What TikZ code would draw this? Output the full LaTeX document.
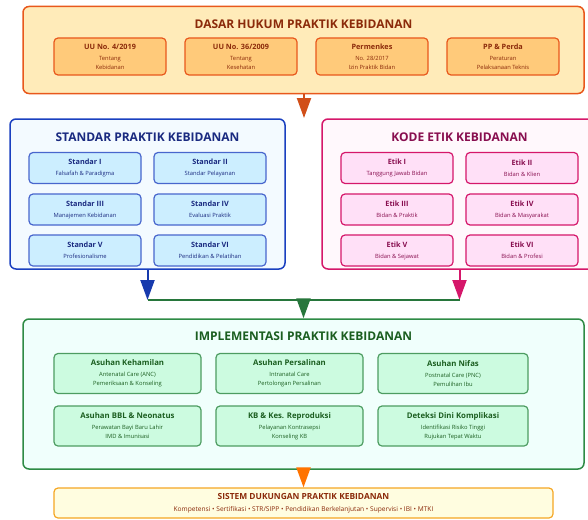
\documentclass[tikz,border=0pt]{standalone}
\usepackage{fontspec}
\setmainfont{Open Sans}
\usetikzlibrary{arrows.meta}

\definecolor{jinggaT}{HTML}{E8581C}
\definecolor{jinggaF}{HTML}{FFEBB9}
\definecolor{jinggaK}{HTML}{FFCA7A}
\definecolor{coklat}{HTML}{8B2A0A}
\definecolor{biruT}{HTML}{1A40C0}
\definecolor{biruF}{HTML}{F3FAFF}
\definecolor{biruK}{HTML}{CCEEFF}
\definecolor{biruG}{HTML}{1A2A80}
\definecolor{pinkT}{HTML}{D5176A}
\definecolor{pinkF}{HTML}{FFF8FC}
\definecolor{pinkK}{HTML}{FFE0F7}
\definecolor{pinkG}{HTML}{880E4F}
\definecolor{hijauT}{HTML}{2E8B45}
\definecolor{hijauF}{HTML}{F0FFFC}
\definecolor{hijauK}{HTML}{CCFBE0}
\definecolor{hijauG}{HTML}{1B5E20}
\definecolor{kuningT}{HTML}{F5A623}
\definecolor{kuningF}{HTML}{FFFDE0}

\newcommand\isi[3][7.3]{{\bfseries\fontsize{#1}{9}\selectfont #2}\\[2pt]#3}

\begin{document}
\begin{tikzpicture}[x=1pt,y=-1pt,line join=round,
	panel/.style={draw,rounded corners=6pt,line width=1.5pt,inner sep=0pt},
	kotak/.style={draw,rounded corners=4pt,line width=1.2pt,inner sep=0pt,align=center,
		font=\fontsize{5.8}{9}\selectfont},
	judul/.style={font=\bfseries\fontsize{12}{14}\selectfont},
	panah/.style={line width=2pt,-{Triangle[width=14pt,length=20pt]}}]
	\useasboundingbox (0,0) rectangle (588,519);
	\clip (0,0) rectangle (588,519);

	% dasar hukum
	\node[panel,draw=jinggaT,fill=jinggaF,minimum width=561,minimum height=87] (dasar) at (303.5,50) {};
	\node[judul,text=coklat] (dasar-t) at (303.5,24) {DASAR HUKUM PRAKTIK KEBIDANAN};
	\node[kotak,draw=jinggaT,fill=jinggaK,text=coklat,minimum width=112,minimum height=37] (uu1) at (110,56.5) {\isi{UU No. 4/2019}{Tentang\\Kebidanan}};
	\node[kotak,draw=jinggaT,fill=jinggaK,text=coklat,minimum width=112,minimum height=37] (uu2) at (241,56.5) {\isi{UU No. 36/2009}{Tentang\\Kesehatan}};
	\node[kotak,draw=jinggaT,fill=jinggaK,text=coklat,minimum width=112,minimum height=37] (pmk) at (372,56.5) {\isi{Permenkes}{No. 28/2017\\Izin Praktik Bidan}};
	\node[kotak,draw=jinggaT,fill=jinggaK,text=coklat,minimum width=112,minimum height=37] (pp) at (503,56.5) {\isi{PP \& Perda}{Peraturan\\Pelaksanaan Teknis}};

	% standar
	\node[panel,draw=biruT,fill=biruF,minimum width=275,minimum height=150] (standar) at (147.5,194) {};
	\node[judul,text=biruG] (standar-t) at (147.5,137) {STANDAR PRAKTIK KEBIDANAN};
	\node[kotak,draw=biruT!80,fill=biruK,text=biruG,minimum width=112,minimum height=31] (s1) at (85,168) {\isi{Standar I}{Falsafah \& Paradigma}};
	\node[kotak,draw=biruT!80,fill=biruK,text=biruG,minimum width=112,minimum height=31] (s2) at (210,168) {\isi{Standar II}{Standar Pelayanan}};
	\node[kotak,draw=biruT!80,fill=biruK,text=biruG,minimum width=112,minimum height=31] (s3) at (85,209.5) {\isi{Standar III}{Manajemen Kebidanan}};
	\node[kotak,draw=biruT!80,fill=biruK,text=biruG,minimum width=112,minimum height=31] (s4) at (210,209.5) {\isi{Standar IV}{Evaluasi Praktik}};
	\node[kotak,draw=biruT!80,fill=biruK,text=biruG,minimum width=112,minimum height=31] (s5) at (85,250.5) {\isi{Standar V}{Profesionalisme}};
	\node[kotak,draw=biruT!80,fill=biruK,text=biruG,minimum width=112,minimum height=31] (s6) at (210,250.5) {\isi{Standar VI}{Pendidikan \& Pelatihan}};

	% kode etik
	\node[panel,draw=pinkT,fill=pinkF,minimum width=275,minimum height=150] (kode) at (459.5,194) {};
	\node[judul,text=pinkG] (kode-t) at (459.5,137) {KODE ETIK KEBIDANAN};
	\node[kotak,draw=pinkT,fill=pinkK,text=pinkG,minimum width=112,minimum height=31] (e1) at (397,168) {\isi{Etik I}{Tanggung Jawab Bidan}};
	\node[kotak,draw=pinkT,fill=pinkK,text=pinkG,minimum width=112,minimum height=31] (e2) at (522,168) {\isi{Etik II}{Bidan \& Klien}};
	\node[kotak,draw=pinkT,fill=pinkK,text=pinkG,minimum width=112,minimum height=31] (e3) at (397,209.5) {\isi{Etik III}{Bidan \& Praktik}};
	\node[kotak,draw=pinkT,fill=pinkK,text=pinkG,minimum width=112,minimum height=31] (e4) at (522,209.5) {\isi{Etik IV}{Bidan \& Masyarakat}};
	\node[kotak,draw=pinkT,fill=pinkK,text=pinkG,minimum width=112,minimum height=31] (e5) at (397,250.5) {\isi{Etik V}{Bidan \& Sejawat}};
	\node[kotak,draw=pinkT,fill=pinkK,text=pinkG,minimum width=112,minimum height=31] (e6) at (522,250.5) {\isi{Etik VI}{Bidan \& Profesi}};

	% implementasi
	\node[panel,draw=hijauT,fill=hijauF,minimum width=561,minimum height=150] (impl) at (303.5,394) {};
	\node[judul,text=hijauG] (impl-t) at (303.5,336) {IMPLEMENTASI PRAKTIK KEBIDANAN};
	\node[kotak,draw=hijauT!85,fill=hijauK,text=hijauG,minimum width=147,minimum height=40] (a1) at (127.5,373.5) {\isi[7.8]{Asuhan Kehamilan}{Antenatal Care (ANC)\\Pemeriksaan \& Konseling}};
	\node[kotak,draw=hijauT!85,fill=hijauK,text=hijauG,minimum width=147,minimum height=40] (a2) at (289.5,373.5) {\isi[7.8]{Asuhan Persalinan}{Intranatal Care\\Pertolongan Persalinan}};
	\node[kotak,draw=hijauT!85,fill=hijauK,text=hijauG,minimum width=150,minimum height=40] (a3) at (453,373.5) {\isi[7.8]{Asuhan Nifas}{Postnatal Care (PNC)\\Pemulihan Ibu}};
	\node[kotak,draw=hijauT!85,fill=hijauK,text=hijauG,minimum width=147,minimum height=40] (a4) at (127.5,426) {\isi[7.8]{Asuhan BBL \& Neonatus}{Perawatan Bayi Baru Lahir\\IMD \& Imunisasi}};
	\node[kotak,draw=hijauT!85,fill=hijauK,text=hijauG,minimum width=147,minimum height=40] (a5) at (289.5,426) {\isi[7.8]{KB \& Kes. Reproduksi}{Pelayanan Kontrasepsi\\Konseling KB}};
	\node[kotak,draw=hijauT!85,fill=hijauK,text=hijauG,minimum width=150,minimum height=40] (a6) at (453,426) {\isi[7.8]{Deteksi Dini Komplikasi}{Identifikasi Risiko Tinggi\\Rujukan Tepat Waktu}};

	% sistem dukungan
	\node[kotak,draw=kuningT,fill=kuningF,text=coklat,line width=1.2pt,minimum width=499,minimum height=30,font=\fontsize{6.6}{9}\selectfont] (sistem) at (303.5,503) {{\bfseries\fontsize{8.4}{9}\selectfont SISTEM DUKUNGAN PRAKTIK KEBIDANAN}\\[3pt]Kompetensi \textbullet\ Sertifikasi \textbullet\ STR/SIPP \textbullet\ Pendidikan Berkelanjutan \textbullet\ Supervisi \textbullet\ IBI \textbullet\ MTKI};

	% panah
	\coordinate (pisah) at (304,118);
	\coordinate (kiri) at (standar.south |- 0,300);
	\coordinate (kanan) at (kode.south |- 0,300);
	\coordinate (tengah) at (impl.north |- 0,300);
	\draw[panah,draw=jinggaT!90!black,fill=jinggaT!90!black] (dasar.south -| pisah) -- (pisah);
	\draw[panah,draw=biruT!90!black,fill=biruT!90!black] (standar.south) -- (kiri);
	\draw[panah,draw=pinkT,fill=pinkT] (kode.south) -- (kanan);
	\draw[line width=1.5pt,hijauT!85!black] (kiri) -- (kanan);
	\draw[panah,draw=hijauT!85!black,fill=hijauT!85!black] (tengah) -- (impl.north);
	\draw[panah,draw=orange!90!red,fill=orange!90!red] (impl.south) -- (sistem.north);
\end{tikzpicture}
\end{document}
